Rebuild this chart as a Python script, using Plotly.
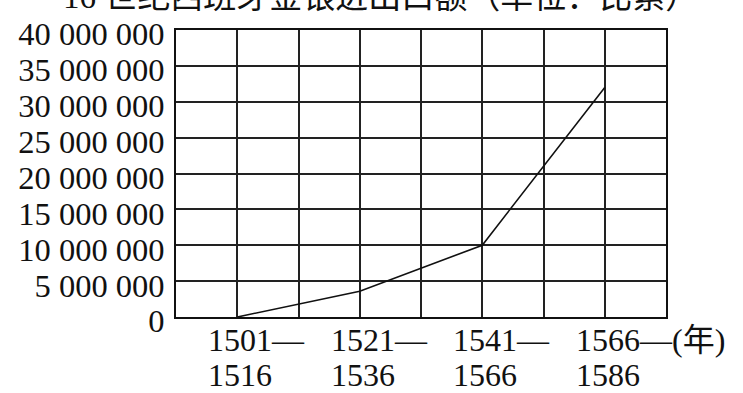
import plotly.graph_objects as go

# Data
period_start = ["1501—", "1521—", "1541—", "1566—"]
period_end = ["1516", "1536", "1566", "1586"]
values = [0, 3600000, 10000000, 32000000]
unit_x = "(年)"
title_text = "16 世纪西班牙金银进出口额（单位：比索）"
y_ticks = [0, 5000000, 10000000, 15000000, 20000000, 25000000, 30000000, 35000000, 40000000]

xpos = [2 * i + 1 for i in range(len(values))]

SERIF = "Liberation Serif, Times New Roman, Noto Sans CJK SC, serif"

fig = go.Figure()
fig.add_trace(go.Scatter(
    x=xpos, y=values, mode="lines",
    line=dict(color="#111111", width=1.6),
    showlegend=False, hoverinfo="skip",
))

annotations = []
for i, (p, s, e) in enumerate(zip(xpos, period_start, period_end)):
    top = s + (unit_x if i == len(xpos) - 1 else "")
    annotations.append(dict(x=p, y=0, xref="x", yref="paper", text=top,
                            xanchor="left", yanchor="top", align="left",
                            xshift=-31, yshift=-3, showarrow=False,
                            font=dict(family=SERIF, size=32, color="#111111")))
    annotations.append(dict(x=p, y=0, xref="x", yref="paper", text=e,
                            xanchor="left", yanchor="top", align="left",
                            xshift=-31, yshift=-38, showarrow=False,
                            font=dict(family=SERIF, size=32, color="#111111")))
annotations.append(dict(x=0.5, y=1, xref="paper", yref="paper", text=title_text,
                        xanchor="center", yanchor="middle", yshift=33, xshift=-41,
                        showarrow=False,
                        font=dict(family=SERIF, size=33, color="#111111")))

fig.update_layout(
    width=743, height=393,
    margin=dict(l=176, r=77, t=30, b=76),
    paper_bgcolor="white", plot_bgcolor="white",
    separators=". ",
    annotations=annotations,
    xaxis=dict(range=[0, 8], dtick=1, tick0=0, showticklabels=False,
               showgrid=True, gridcolor="#222222", gridwidth=1.5,
               zeroline=False, showline=True, linecolor="#111111", linewidth=2,
               mirror=True, ticks=""),
    yaxis=dict(range=[0, 40000000], tickvals=y_ticks, tickformat=",d",
               showgrid=True, gridcolor="#222222", gridwidth=1.5,
               zeroline=False, showline=True, linecolor="#111111", linewidth=2,
               mirror=True, ticks="", ticklabelstandoff=3, ticklabelshift=4,
               tickfont=dict(family=SERIF, size=32.5, color="#111111")),
)

fig.write_html("out.html")
